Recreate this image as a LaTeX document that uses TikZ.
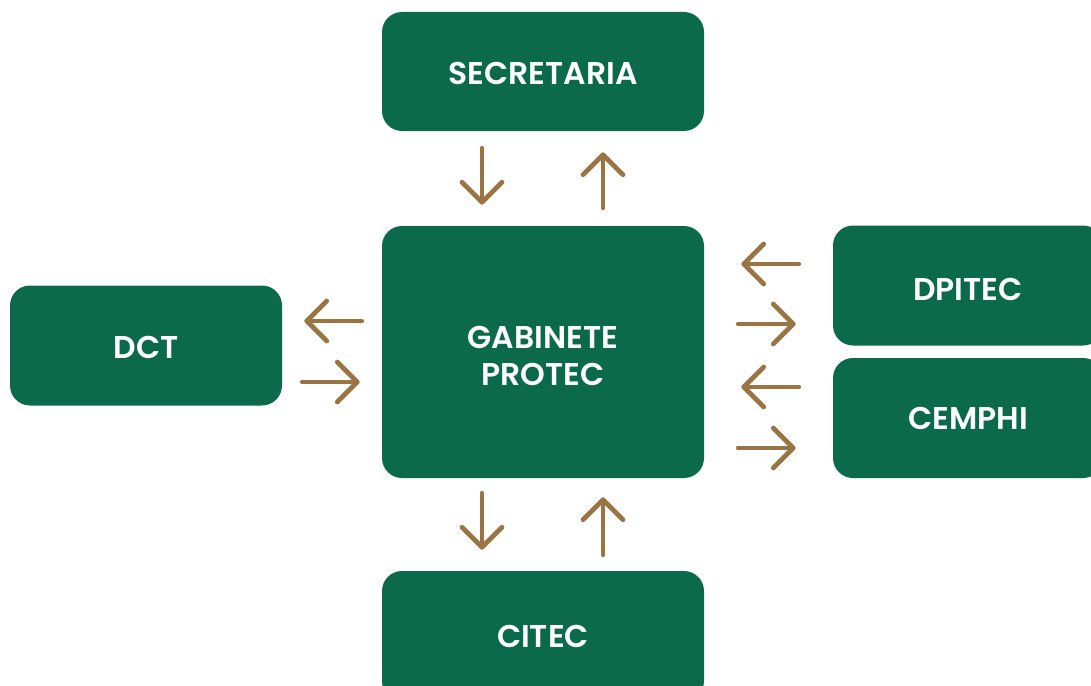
\documentclass[tikz,border=0pt]{standalone}
\usepackage{fontspec}
\setmainfont{Poppins}[BoldFont={* SemiBold}]
\usetikzlibrary{arrows.meta}
\definecolor{boxgreen}{HTML}{0B6A4A}
\definecolor{arrowbrown}{HTML}{9A7443}
% label set with its first baseline #1 below the node centre, taking no height
\newcommand{\unitlabel}[2]{\raisebox{-#1}[0pt][0pt]{\begin{tabular}[t]{@{}c@{}}#2\end{tabular}}}
\begin{document}
\begin{tikzpicture}[x=0.75pt,y=-0.75pt,
  unit/.style={fill=boxgreen, rounded corners=15pt, text=white,
    font=\bfseries\fontsize{23.6}{28}\selectfont, align=center,
    inner sep=0pt},
  arr/.style={draw=arrowbrown, line width=3.6pt, line cap=round,
    -{Straight Barb[length=15pt, width=30pt, line cap=round, line join=round]}}
]
\clip (0,0) rectangle (1091,685);
\fill[white] (0,0) rectangle (1091,685);

% units of the organisation chart
\node[unit, minimum width=241.5pt, minimum height=89.25pt] (sec) at (543,71.5) {\unitlabel{9.75pt}{SECRETARIA}};
\node[unit, minimum width=241.5pt, minimum height=189pt] (gab) at (543,352) {\unitlabel{-2.6pt}{GABINETE\\PROTEC}};
\node[unit, minimum width=204pt, minimum height=90pt] (dct) at (146,345.5) {\unitlabel{9.75pt}{DCT}};
\node[unit, minimum width=202.5pt, minimum height=90pt] (dpi) at (968,285.5) {\unitlabel{11pt}{DPITEC}};
\node[unit, minimum width=202.5pt, minimum height=90pt] (cem) at (968,418) {\unitlabel{8.85pt}{CEMPHI}};
\node[unit, minimum width=241.5pt, minimum height=97.5pt] (cit) at (543,636) {\unitlabel{8.4pt}{CITEC}};

% secretaria <-> gabinete
\draw[arr, shorten <=12.75pt, shorten >=15.75pt] ([xshift=-45.75pt]sec.south) -- ([xshift=-45.75pt]gab.north);
\draw[arr, shorten <=13.5pt, shorten >=15.75pt] ([xshift=45pt]gab.north) -- ([xshift=45pt]sec.south);

% gabinete <-> dct
\draw[arr, shorten <=15pt, shorten >=16.5pt] ([yshift=23.25pt]gab.west) -- ([yshift=18.375pt]dct.east);
\draw[arr, shorten <=15pt, shorten >=16.5pt] ([yshift=-27.375pt]dct.east) -- ([yshift=-22.5pt]gab.west);

% gabinete <-> dpitec / cemphi
\draw[arr, shorten <=25.5pt, shorten >=27.75pt] ([yshift=16.125pt]dpi.west) -- ([yshift=66pt]gab.east);
\draw[arr, shorten <=25.5pt, shorten >=27.75pt] ([yshift=21pt]gab.east) -- ([yshift=-28.875pt]dpi.west);
\draw[arr, shorten <=25.5pt, shorten >=27.75pt] ([yshift=23.25pt]cem.west) -- ([yshift=-26.25pt]gab.east);
\draw[arr, shorten <=25.5pt, shorten >=27.75pt] ([yshift=-72pt]gab.east) -- ([yshift=-22.5pt]cem.west);

% gabinete <-> citec
\draw[arr, shorten <=11.25pt, shorten >=15.75pt] ([xshift=-45.75pt]gab.south) -- ([xshift=-45.75pt]cit.north);
\draw[arr, shorten <=12pt, shorten >=14.25pt] ([xshift=45pt]cit.north) -- ([xshift=45pt]gab.south);
\end{tikzpicture}
\end{document}
